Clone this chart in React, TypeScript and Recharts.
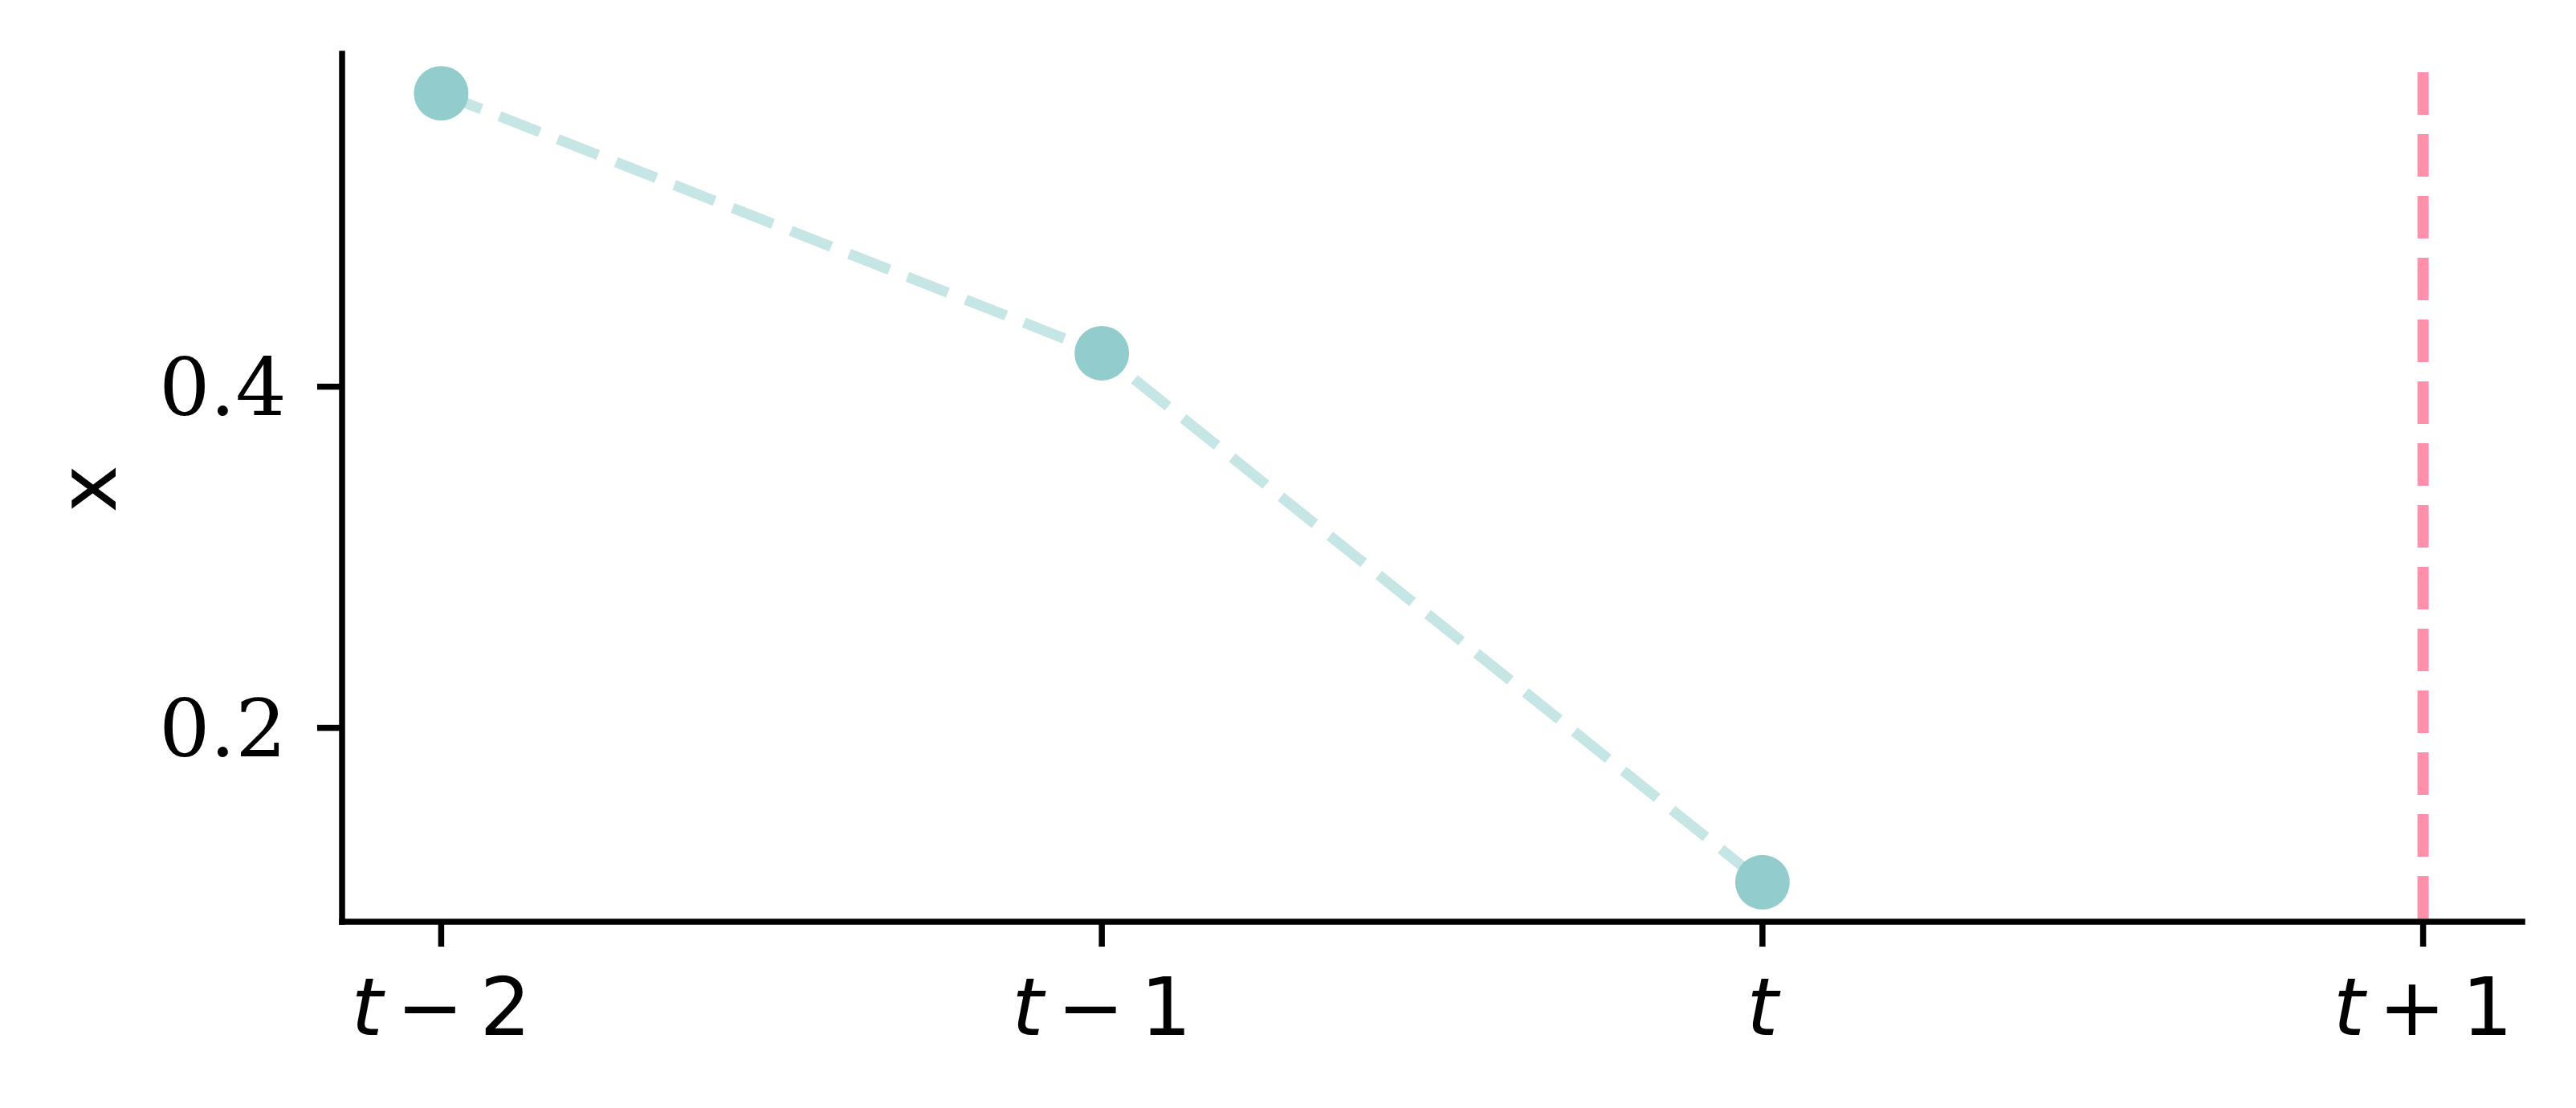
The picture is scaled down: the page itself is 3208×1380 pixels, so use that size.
import { LineChart, Line, XAxis, YAxis, ReferenceLine, Label } from "recharts";

// time steps on the x axis
const steps = ["t-2", "t-1", "t", "t+1"];
const stepPositions = [0, 1, 2, 3];
// observed x values for the first three steps
const xValues = [0.572, 0.4196, 0.1095];
const yTicks = [0.2, 0.4];
// top end of the forecast marker line
const forecastTop = 0.5843;

const data = xValues.map((v, i) => ({ pos: stepPositions[i], x: v }));

// matplotlib-style 5% padding around the data
const span = Math.max(...xValues) - Math.min(...xValues);
const yMin = Math.min(...xValues) - span * 0.05;
const yMax = Math.max(...xValues) + span * 0.05;
const xPad = (stepPositions[stepPositions.length - 1] - stepPositions[0]) * 0.05;

const StepTick = ({ x, y, payload }: any) => {
  const label = steps[payload.value] ?? "";
  const op = label.includes("-") ? "\u2212" : label.includes("+") ? "+" : "";
  const num = label.replace(/^t[-+]?/, "");
  return (
    <text
      x={x}
      y={y + 100}
      textAnchor="middle"
      fontFamily="DejaVu Sans"
      fontSize={100}
      fill="#000"
    >
      <tspan fontStyle="italic">t</tspan>
      {op && <tspan dx={17}>{op}</tspan>}
      {num && <tspan dx={20}>{num}</tspan>}
    </text>
  );
};

const YLabel = () => (
  <text
    x={144}
    y={609}
    transform="rotate(-90, 144, 609)"
    textAnchor="middle"
    fontFamily="DejaVu Sans"
    fontSize={100}
    fill="#000"
  >
    x
  </text>
);

export default function App() {
  return (
    <div style={{ position: "absolute", left: 0, top: 0, background: "#fff" }}>
      <LineChart
        width={3208}
        height={1380}
        data={data}
        margin={{ top: 67, right: 67, bottom: 0, left: 0 }}
      >
        <XAxis
          dataKey="pos"
          type="number"
          domain={[stepPositions[0] - xPad, stepPositions[3] + xPad]}
          ticks={stepPositions}
          allowDataOverflow
          height={232}
          stroke="#000"
          strokeWidth={7.5}
          axisLine={{ stroke: "#000", strokeWidth: 7.5, strokeLinecap: "square" }}
          tickLine={{ stroke: "#000", strokeWidth: 7.5 }}
          tickSize={31}
          tickMargin={10}
          tick={<StepTick />}
        />
        <YAxis
          type="number"
          domain={[yMin, yMax]}
          ticks={yTicks}
          allowDataOverflow
          width={426}
          stroke="#000"
          strokeWidth={7.5}
          axisLine={{ stroke: "#000", strokeWidth: 7.5, strokeLinecap: "square" }}
          tickLine={{ stroke: "#000", strokeWidth: 7.5 }}
          tickSize={31}
          tickMargin={38}
          tickFormatter={(v: number) => v.toFixed(1)}
          tick={{ fill: "#000", stroke: "none", fontFamily: "DejaVu Serif", fontSize: 100 }}
        >
          <Label content={<YLabel />} />
        </YAxis>
        <ReferenceLine
          segment={[
            { x: stepPositions[3], y: forecastTop },
            { x: stepPositions[3], y: yMin },
          ]}
          stroke="#FF8FAB"
          strokeWidth={14}
          strokeDasharray="53 24"
        />
        <Line
          dataKey="x"
          type="linear"
          stroke="#C6E5E5"
          strokeWidth={13}
          strokeDasharray="54 24"
          dot={{ r: 34, fill: "#92CCCC", stroke: "none", strokeWidth: 0 }}
          activeDot={false}
          isAnimationActive={false}
        />
      </LineChart>
    </div>
  );
}
